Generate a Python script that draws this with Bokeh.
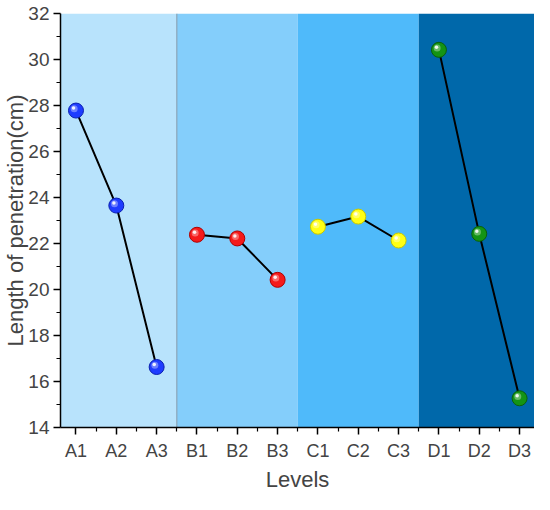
from bokeh.plotting import figure
from bokeh.models import FixedTicker, ColumnDataSource, BoxAnnotation, Span
from bokeh.transform import dodge
from bokeh.embed import file_html
from bokeh.resources import INLINE

# ---- data ----
categories = ["A1", "A2", "A3", "B1", "B2", "B3", "C1", "C2", "C3", "D1", "D2", "D3"]
factors = ["A", "B", "C", "D"]
values_A = [27.78, 23.65, 16.63]
values_B = [22.38, 22.22, 20.42]
values_C = [22.73, 23.17, 22.13]
values_D = [30.42, 22.42, 15.27]
series_values = [values_A, values_B, values_C, values_D]
band_colors = ["#B8E3FC", "#84CEFB", "#4FBAFA", "#0068AA"]
marker_colors = ["#1E3CFF", "#F51A1A", "#FFFF14", "#149414"]
marker_edges = ["#0A1FB0", "#B00000", "#C8C800", "#0A600A"]
y_ticks = [14, 16, 18, 20, 22, 24, 26, 28, 30, 32]
x_title = "Levels"
y_title = "Length of penetration(cm)"

FONT = "Liberation Sans"
X_START, X_END = 0.616, 12.37
Y_START, Y_END = 14, 32

p = figure(width=534, height=494, output_backend="svg", toolbar_location=None,
           x_range=(X_START, X_END), y_range=(Y_START, Y_END),
           min_border_left=10, min_border_right=0, min_border_top=13, min_border_bottom=10)
p.background_fill_color = "white"
p.border_fill_color = "white"
p.outline_line_color = None
p.grid.visible = False

# background bands per factor
n = 3
for i, f in enumerate(factors):
    left = i * n + 0.5
    right = left + n
    p.add_layout(BoxAnnotation(left=left, right=right, fill_color=band_colors[i], fill_alpha=1.0,
                               line_color=None, level="underlay"))
p.add_layout(Span(location=3.5, dimension="height", line_color="#8AA6B8", line_width=1.2, level="underlay"))

# lines and markers
for i, f in enumerate(factors):
    xs = [i * n + k + 1 for k in range(n)]
    src = ColumnDataSource(dict(x=xs, y=series_values[i]))
    p.line("x", "y", source=src, line_color="black", line_width=2)
    p.scatter("x", "y", source=src, size=15, fill_color=marker_colors[i],
              line_color=marker_edges[i], line_width=1)
    # glossy highlight
    p.scatter(dodge("x", -0.045), dodge("y", 0.08), source=src, size=7,
              fill_color="white", fill_alpha=0.35, line_color=None)
    p.scatter(dodge("x", -0.06), dodge("y", 0.11), source=src, size=3.5,
              fill_color="white", fill_alpha=0.9, line_color=None)

# x axis
xa = p.xaxis[0]
xa.ticker = FixedTicker(ticks=list(range(1, len(categories) + 1)),
                        minor_ticks=[k + 0.5 for k in range(1, len(categories))])
xa.major_label_overrides = {i + 1: c for i, c in enumerate(categories)}
xa.axis_label = x_title
xa.axis_label_text_font = FONT
xa.axis_label_text_font_size = "22px"
xa.axis_label_text_font_style = "normal"
xa.axis_label_standoff = 3
xa.major_label_text_font = FONT
xa.major_label_text_font_size = "18px"
xa.major_label_standoff = 6
xa.major_tick_out = 7
xa.major_tick_in = 0
xa.minor_tick_out = 4
xa.minor_tick_in = 0
xa.axis_line_width = 1.5
xa.major_tick_line_width = 1.5
xa.minor_tick_line_width = 1.2

# y axis
ya = p.yaxis[0]
ya.ticker = FixedTicker(ticks=y_ticks, minor_ticks=[t + 1 for t in y_ticks[:-1]])
ya.axis_label = y_title
ya.axis_label_text_font = FONT
ya.axis_label_text_font_size = "22px"
ya.axis_label_text_font_style = "normal"
ya.axis_label_standoff = -3
ya.major_label_text_font = FONT
ya.major_label_text_font_size = "19px"
ya.major_label_standoff = 4
ya.major_tick_out = 7
ya.major_tick_in = 0
ya.minor_tick_out = 4
ya.minor_tick_in = 0
ya.axis_line_width = 1.5
ya.major_tick_line_width = 1.5
ya.minor_tick_line_width = 1.2

open("out.html", "w").write(file_html(p, INLINE))
